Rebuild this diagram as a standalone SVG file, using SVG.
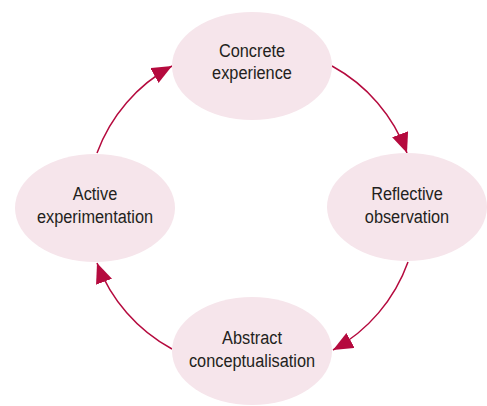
<svg xmlns="http://www.w3.org/2000/svg" width="487" height="406" viewBox="0 0 487 406">
<style>
.node ellipse{fill:#f6e5eb;stroke:none}
.node text{font-family:"Liberation Sans",Arial,sans-serif;font-size:19px;fill:#231f20;text-anchor:middle}
.conn path{fill:none;stroke:#b50a3e;stroke-width:1.5}
</style>
<defs>
<marker id="ah" markerUnits="userSpaceOnUse" markerWidth="22" markerHeight="18" refX="20" refY="8.5" orient="auto" viewBox="0 0 22 18">
<path d="M0,0 L20,8.5 L0,17 z" fill="#b50a3e"/>
</marker>
</defs>
<rect width="487" height="406" fill="#ffffff"/>
<g class="conn" id="connectors">
<path d="M332,66 A163,163 0 0 1 407,153" marker-end="url(#ah)"/>
<path d="M408,262 A163,163 0 0 1 333,350" marker-end="url(#ah)"/>
<path d="M172,349 A163,163 0 0 1 97,263" marker-end="url(#ah)"/>
<path d="M97,153 A163,163 0 0 1 172,66" marker-end="url(#ah)"/>
</g>
<g class="node" id="concrete">
<ellipse cx="252" cy="66" rx="80" ry="54"/>
<text transform="translate(252,57) scale(0.86,1)">Concrete</text>
<text transform="translate(252,79) scale(0.86,1)">experience</text>
</g>
<g class="node" id="reflective">
<ellipse cx="407" cy="207" rx="80" ry="54"/>
<text transform="translate(407,200) scale(0.86,1)">Reflective</text>
<text transform="translate(407,223) scale(0.86,1)">observation</text>
</g>
<g class="node" id="abstract">
<ellipse cx="252" cy="351" rx="80" ry="54"/>
<text transform="translate(252,344) scale(0.86,1)">Abstract</text>
<text transform="translate(252,367) scale(0.86,1)">conceptualisation</text>
</g>
<g class="node" id="active">
<ellipse cx="95" cy="208" rx="80" ry="54"/>
<text transform="translate(95,200) scale(0.86,1)">Active</text>
<text transform="translate(95,223) scale(0.86,1)">experimentation</text>
</g>
</svg>
